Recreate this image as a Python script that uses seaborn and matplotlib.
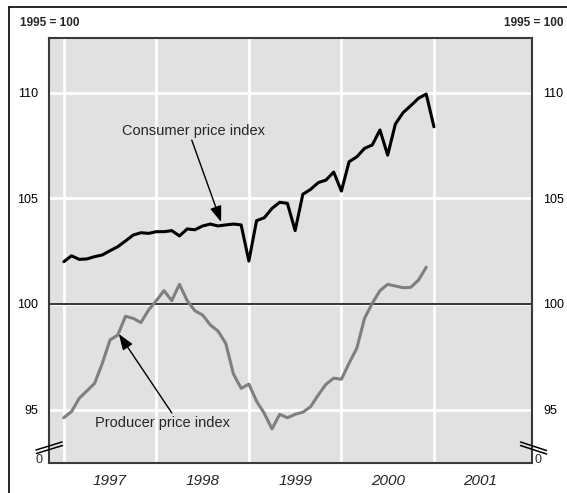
"""Consumer and producer price indices, 1997-2000 (1995 = 100)."""

import matplotlib
matplotlib.use("Agg")
import matplotlib.pyplot as plt
import matplotlib.transforms as mtransforms
from matplotlib.lines import Line2D
import numpy as np
import pandas as pd
import seaborn as sns

# monthly values, starting January 1997
cpi = [102.00, 102.28, 102.11, 102.13, 102.24, 102.32, 102.52, 102.71, 102.98, 103.26, 103.37, 103.34,
       103.42, 103.42, 103.47, 103.22, 103.55, 103.51, 103.69, 103.78, 103.69, 103.74, 103.78, 103.74,
       102.03, 103.94, 104.08, 104.52, 104.81, 104.76, 103.47, 105.19, 105.42, 105.74, 105.86, 106.24,
       105.34, 106.73, 106.96, 107.36, 107.52, 108.23, 107.04, 108.51, 109.05, 109.38, 109.73, 109.93,
       108.38]
ppi = [94.62, 94.91, 95.54, 95.89, 96.25, 97.20, 98.30, 98.53, 99.42, 99.32, 99.12, 99.72,
       100.16, 100.63, 100.16, 100.93, 100.16, 99.68, 99.48, 99.01, 98.72, 98.14, 96.69, 96.01,
       96.21, 95.40, 94.83, 94.09, 94.78, 94.62, 94.78, 94.88, 95.14, 95.70, 96.20, 96.49,
       96.44, 97.20, 97.91, 99.32, 100.03, 100.63, 100.93, 100.85, 100.77, 100.79, 101.13, 101.74]
start_year = 1997
years = [1997, 1998, 1999, 2000, 2001]
y_ticks = [95, 100, 105, 110]

sns.set_theme(style="darkgrid")
plt.rcParams["font.family"] = ["Liberation Sans", "DejaVu Sans"]

df = pd.concat([
    pd.DataFrame({"date": start_year + np.arange(len(cpi)) / 12, "value": cpi, "series": "Consumer price index"}),
    pd.DataFrame({"date": start_year + np.arange(len(ppi)) / 12, "value": ppi, "series": "Producer price index"}),
])

fig = plt.figure(figsize=(5.67, 4.93), dpi=100)
fig.patch.set_facecolor("white")
ax = fig.add_axes([0.0864, 0.0609, 0.8519, 0.862])
ax.set_facecolor("#e1e1e1")

ax.set_xlim(1996.84, 2002.06)
ax.set_ylim(92.48, 112.58)
ax.set_xticks(years)
ax.set_yticks(y_ticks)
ax.grid(True, color="white", linewidth=2)
ax.tick_params(axis="both", length=0, labelsize=9, colors="black")
ax.tick_params(axis="x", labelbottom=False)
ax.tick_params(axis="y", pad=8, labelright=True)
for spine in ax.spines.values():
    spine.set_visible(True)
    spine.set_color("#3a3a3a")
    spine.set_linewidth(1.5)

ax.axhline(100, color="black", linewidth=1.1, zorder=2)

sns.lineplot(data=df[df["series"] == "Producer price index"], x="date", y="value",
             color="#7f7f7f", linewidth=2.2, ax=ax, legend=False, zorder=3)
sns.lineplot(data=df[df["series"] == "Consumer price index"], x="date", y="value",
             color="black", linewidth=2.2, ax=ax, legend=False, zorder=4)
ax.set_xlabel("")
ax.set_ylabel("")

# year labels centred in each year
xblend = mtransforms.blended_transform_factory(ax.transData, ax.transAxes)
for yr in years:
    ax.text(yr + 0.5, -0.043, str(yr), transform=xblend,
            ha="center", va="center", fontsize=11, style="italic")

# zero labels for the broken axis
blend = mtransforms.blended_transform_factory(ax.transAxes, ax.transData)
ax.text(-0.014, 92.6, "0", transform=blend, ha="right", va="center", fontsize=9)
ax.text(1.006, 92.6, "0", transform=blend, ha="left", va="center", fontsize=9)

# break marks
W, H = 567.0, 493.0
for (x0, y0, x1, y1) in [(36, 450, 62, 442), (36.5, 453.5, 62.5, 445.5),
                         (520.5, 442, 546.5, 450.5), (520.5, 445.5, 546.5, 454)]:
    fig.add_artist(Line2D([x0 / W, x1 / W], [1 - y0 / H, 1 - y1 / H], color="black", linewidth=1.1))

# outer frame
fig.add_artist(Line2D([9 / W, 9 / W], [0, 1 - 7 / H], color="black", linewidth=1.2))
fig.add_artist(Line2D([9 / W, 1], [1 - 7 / H, 1 - 7 / H], color="black", linewidth=1.2))

fig.text(20 / W, 1 - 23 / H, "1995 = 100", ha="left", va="center", fontsize=8.5, fontweight="bold")
fig.text(563 / W, 1 - 23 / H, "1995 = 100", ha="right", va="center", fontsize=8.5, fontweight="bold")

# annotations
arrow = dict(arrowstyle="-|>,head_length=0.6,head_width=0.22", color="black", lw=1.0,
             mutation_scale=16, shrinkA=0, shrinkB=0)
ax.text(1998.406, 108.18, "Consumer price index", ha="center", va="center", fontsize=10.5)
ax.annotate("", xy=(1998.70, 103.88), xytext=(1998.383, 107.75), arrowprops=arrow)
ax.text(1998.07, 94.37, "Producer price index", ha="center", va="center", fontsize=10.5)
ax.annotate("", xy=(1997.595, 98.58), xytext=(1998.167, 94.85), arrowprops=arrow)

fig.savefig("out.png", dpi=100)
